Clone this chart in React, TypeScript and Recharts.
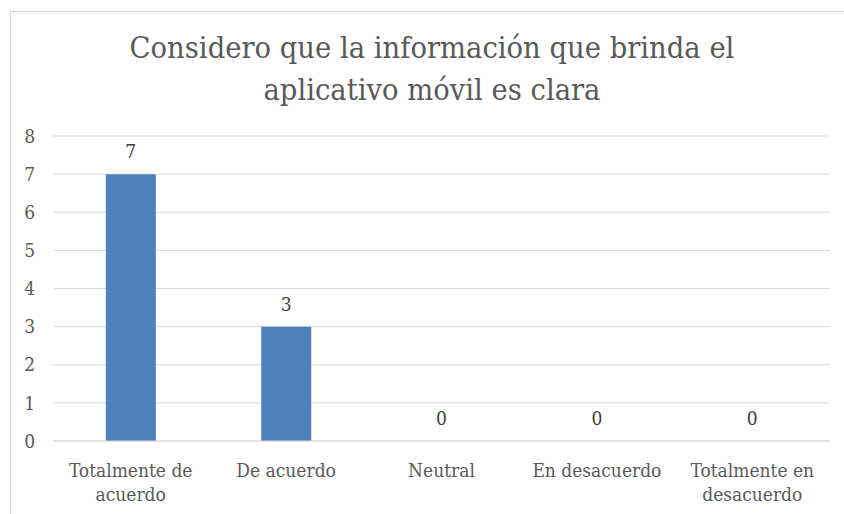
import { Bar, CartesianGrid, ComposedChart, LabelList, Line, Text, XAxis, YAxis } from "recharts";

const categories = [
  "Totalmente de acuerdo",
  "De acuerdo",
  "Neutral",
  "En desacuerdo",
  "Totalmente en desacuerdo",
];
const counts = [7, 3, 0, 0, 0];
const yTicks = [0, 1, 2, 3, 4, 5, 6, 7, 8];
const titleLines = ["Considero que la información que brinda el", "aplicativo móvil es clara"];

const FONT = "'DejaVu Serif Condensed', 'DejaVu Serif', serif";
const TEXT = "#595959";

const data = categories.map((name, i) => ({ name, value: counts[i] }));

function CategoryTick(props: any) {
  const { x, y, payload } = props;
  const style = { fontSize: 19, fontFamily: FONT };
  return (
    <Text
      x={x}
      y={y + 15}
      width={150}
      textAnchor="middle"
      verticalAnchor="start"
      fill={TEXT}
      style={style}
      lineHeight={24}
    >
      {payload.value}
    </Text>
  );
}

export default function App() {
  return (
    <div
      style={{
        position: "absolute",
        left: 0,
        top: 0,
        width: 844,
        height: 514,
        overflow: "hidden",
        background: "#fff",
      }}
    >
      <div
        style={{
          position: "absolute",
          left: 10,
          top: 11,
          width: 900,
          height: 600,
          border: "1px solid #d9d9d9",
        }}
      />
      <div
        style={{
          position: "absolute",
          left: 0,
          top: 27,
          width: 864,
          textAlign: "center",
          fontFamily: FONT,
          fontSize: 30.5,
          lineHeight: "42px",
          color: TEXT,
        }}
      >
        {titleLines.map((line) => (
          <div key={line}>{line}</div>
        ))}
      </div>
      <div style={{ position: "absolute", left: 0, top: 0 }}>
        <ComposedChart
          width={844}
          height={514}
          data={data}
          margin={{ top: 136, right: 14, bottom: 0, left: 0 }}
          barCategoryGap="34%"
        >
          <CartesianGrid vertical={false} stroke="#d9d9d9" />
          <XAxis
            dataKey="name"
            height={73}
            axisLine={{ stroke: "#d9d9d9" }}
            tickLine={false}
            interval={0}
            tick={<CategoryTick />}
          />
          <YAxis
            width={53}
            domain={[0, 8]}
            ticks={yTicks}
            axisLine={false}
            tickLine={false}
            tickMargin={12}
            tick={{ fill: TEXT, fontSize: 19, fontFamily: FONT }}
          />
          <Bar dataKey="value" fill="#4f81bd" isAnimationActive={false} />
          <Line
            dataKey="value"
            stroke="none"
            dot={false}
            activeDot={false}
            legendType="none"
            isAnimationActive={false}
          >
            <LabelList
              dataKey="value"
              position="top"
              offset={16}
              fill="#404040"
              fontSize={19}
              fontFamily={FONT}
            />
          </Line>
        </ComposedChart>
      </div>
    </div>
  );
}
